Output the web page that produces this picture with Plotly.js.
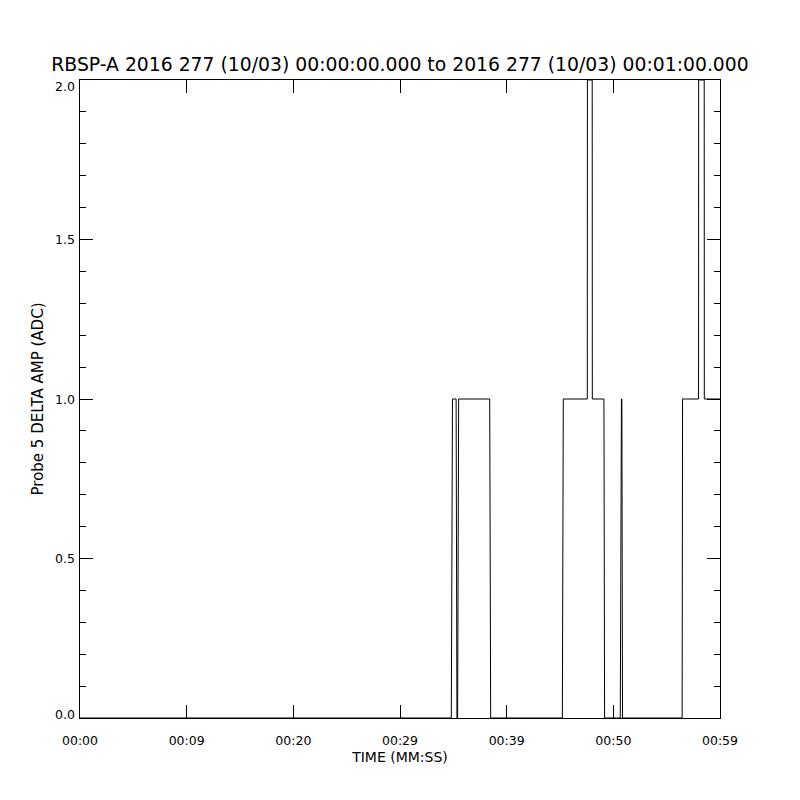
<!DOCTYPE html>
<html>
<head>
<meta charset="utf-8">
<script src="https://cdn.plot.ly/plotly-3.0.1.min.js"></script>
<style>html,body{margin:0;padding:0;background:#fff;}#chart{width:800px;height:800px;}</style>
</head>
<body>
<div id="chart"></div>
<script>
// Time in seconds after 00:00:00.000
const timeSec = [0, 34.81, 34.92, 35.26, 35.34, 35.40, 35.50, 38.41, 38.50, 45.22, 45.31, 47.56, 47.57, 48.02, 48.03, 49.12, 49.18, 50.65, 50.76, 50.80, 50.86, 56.45, 56.49, 57.99, 58.00, 58.52, 58.53, 60];
const deltaAmp = [0, 0, 1, 1, 0, 0, 1, 1, 0, 0, 1, 1, 2, 2, 1, 1, 0, 0, 1, 1, 0, 0, 1, 1, 2, 2, 1, 1];
const xTickVals = [0, 10, 20, 30, 40, 50, 60];
const xTickText = ['00:00', '00:09', '00:20', '00:29', '00:39', '00:50', '00:59'];
const yTickVals = [0, 0.5, 1, 1.5, 2];
const yTickText = ['0.0', '0.5', '1.0', '1.5', '2.0'];

const FONT = 'DejaVu Sans';
const trace = {
  x: timeSec, y: deltaAmp, type: 'scatter', mode: 'lines',
  line: {color: '#000', width: 1}, hoverinfo: 'skip'
};
// y tick labels placed like the original (end labels nudged inside the frame)
const yLabelShift = v => (v === yTickVals[yTickVals.length - 1] ? -6 : (v === yTickVals[0] ? 4 : 0));
const yLabels = yTickVals.map((v, i) => ({
  xref: 'paper', yref: 'y', x: 0, y: v, xanchor: 'right', yanchor: 'middle',
  xshift: -3, yshift: yLabelShift(v), showarrow: false, text: yTickText[i],
  font: {family: FONT, size: 12.5, color: '#000'}
}));
const layout = {
  width: 800, height: 800,
  margin: {l: 80, r: 80, t: 80, b: 82, pad: 0},
  paper_bgcolor: '#fff', plot_bgcolor: '#fff',
  showlegend: false,
  font: {family: FONT, color: '#000', size: 12},
  title: {text: 'RBSP-A 2016 277 (10/03) 00:00:00.000 to 2016 277 (10/03) 00:01:00.000',
          font: {family: FONT, size: 18.8, color: '#000'},
          x: 0.5, xanchor: 'center', y: 1 - 64/800, yanchor: 'middle', yref: 'container'},
  xaxis: {
    range: [0, 60], showgrid: false, zeroline: false,
    showline: true, linecolor: '#000', linewidth: 1, mirror: 'ticks',
    ticks: 'inside', ticklen: 13, tickwidth: 1, tickcolor: '#000',
    tickmode: 'array', tickvals: xTickVals, ticktext: xTickText,
    tickfont: {family: FONT, size: 12.5},
    ticklabelstandoff: 11,
    title: {text: 'TIME (MM:SS)', font: {family: FONT, size: 14}, standoff: 5}
  },
  yaxis: {
    range: [0, 2], showgrid: false, zeroline: false,
    showline: true, linecolor: '#000', linewidth: 1, mirror: 'ticks',
    ticks: 'inside', ticklen: 13, tickwidth: 1, tickcolor: '#000',
    tickmode: 'array', tickvals: yTickVals, ticktext: yTickText,
    showticklabels: false,
    minor: {dtick: 0.1, ticks: 'inside', ticklen: 6, tickwidth: 1, tickcolor: '#000', showgrid: false},
    title: {text: 'Probe 5 DELTA AMP (ADC)', font: {family: FONT, size: 15}, standoff: 31}
  },
  annotations: yLabels
};
Plotly.newPlot('chart', [trace], layout, {staticPlot: true, displayModeBar: false});
</script>
</body>
</html>
